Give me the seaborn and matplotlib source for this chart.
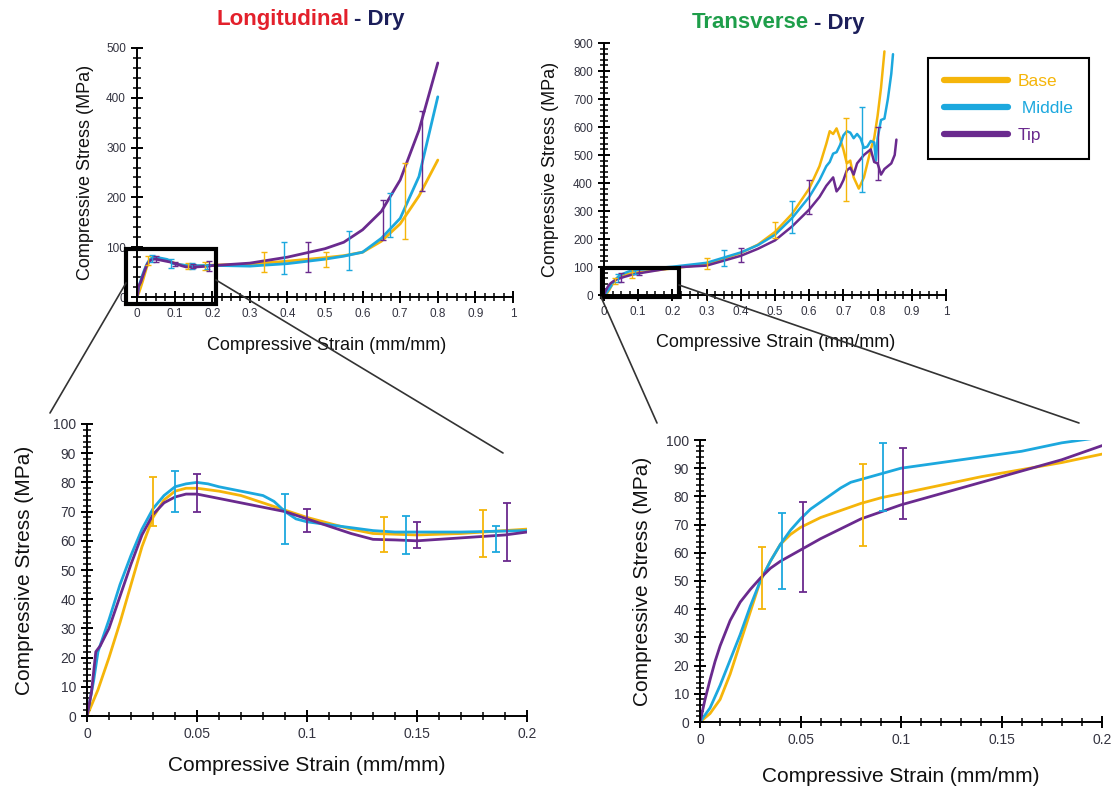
import numpy as np
import pandas as pd
import matplotlib
matplotlib.use("Agg")
import matplotlib.pyplot as plt
import seaborn as sns
from matplotlib.lines import Line2D
from matplotlib.patches import Rectangle
from matplotlib.ticker import MultipleLocator, FuncFormatter

sns.set_style("ticks")
plt.rcParams["font.family"] = ["Liberation Sans", "DejaVu Sans"]

SERIES = ["Base", "Middle", "Tip"]
LEGEND_LABELS = ["Base", " Middle", "Tip"]
COLORS = {"Base": "#F5B50A", "Middle": "#1CA8DE", "Tip": "#6A2A8E"}

# ---------------- Longitudinal - Dry ----------------
long_base_strain = [0, 0.005, 0.01, 0.015, 0.02, 0.025, 0.03, 0.035, 0.04, 0.045, 0.05, 0.06, 0.07,
                    0.08, 0.09, 0.1, 0.11, 0.12, 0.13, 0.15, 0.17, 0.2, 0.3, 0.4, 0.5, 0.55, 0.6,
                    0.65, 0.7, 0.75, 0.8]
long_base_stress = [0, 9, 20, 32, 45, 58, 68, 74, 77, 78, 78, 77, 75.5,
                    73, 70.5, 68, 66, 64, 62.5, 62, 62.5, 64, 66, 72, 79, 83, 90,
                    112, 147, 203, 275]

long_mid_strain = [0, 0.003, 0.005, 0.01, 0.015, 0.02, 0.025, 0.03, 0.035, 0.04, 0.045, 0.05, 0.055,
                   0.06, 0.07, 0.08, 0.085, 0.09, 0.095, 0.1, 0.11, 0.12, 0.13, 0.14, 0.15, 0.17,
                   0.2, 0.3, 0.4, 0.5, 0.55, 0.6, 0.65, 0.7, 0.75, 0.8]
long_mid_stress = [0, 12, 22, 33, 45, 55, 64, 71, 75.5, 78.5, 79.5, 80, 79.5,
                   78.5, 77, 75.5, 73.5, 70, 67.5, 66.5, 65.5, 64.5, 63.5, 63, 63, 63,
                   63.5, 62, 67, 76, 82, 90, 118, 158, 242, 402]

long_tip_strain = [0, 0.002, 0.004, 0.006, 0.01, 0.015, 0.02, 0.025, 0.03, 0.035, 0.04, 0.045, 0.05,
                   0.06, 0.07, 0.08, 0.09, 0.1, 0.11, 0.12, 0.13, 0.14, 0.15, 0.17, 0.19, 0.2,
                   0.3, 0.4, 0.5, 0.55, 0.6, 0.65, 0.7, 0.75, 0.8]
long_tip_stress = [0, 8, 22, 24, 30, 41, 52, 62, 69, 73, 75, 76, 76,
                   74.5, 73, 71.5, 70, 67.5, 65, 62.5, 60.5, 60.3, 60, 61, 62, 63,
                   68, 80, 97, 110, 135, 172, 235, 335, 470]

long_err_series = ["Base", "Middle", "Tip", "Middle", "Tip", "Base", "Middle", "Tip", "Base", "Middle", "Tip",
                   "Base", "Middle", "Tip", "Base", "Middle", "Tip", "Middle", "Base", "Tip"]
long_err_strain = [0.03, 0.04, 0.05, 0.09, 0.1, 0.135, 0.145, 0.15, 0.18, 0.186, 0.191,
                   0.338, 0.392, 0.454, 0.503, 0.565, 0.655, 0.673, 0.712, 0.757]
long_err_mean = [73.5, 77, 76.5, 67.5, 67, 62, 62, 62, 62.5, 60.5, 63,
                 70, 78, 80, 75, 93, 155, 165, 193, 293]
long_err_sd = [8.5, 7, 6.5, 8.5, 4, 6, 6.5, 4.5, 8, 4.5, 10,
               20, 32, 30, 15, 39, 40, 44, 76, 80]

# ---------------- Transverse - Dry ----------------
tran_base_strain = [0, 0.005, 0.01, 0.015, 0.02, 0.025, 0.03, 0.035, 0.04, 0.045, 0.05, 0.06, 0.07,
                    0.08, 0.09, 0.1, 0.12, 0.14, 0.16, 0.18, 0.2, 0.3, 0.4, 0.45, 0.5, 0.55, 0.6,
                    0.63, 0.65, 0.66, 0.67, 0.68, 0.69, 0.7, 0.71, 0.72, 0.73, 0.745, 0.76, 0.78,
                    0.79, 0.8, 0.81, 0.82]
tran_base_stress = [0, 3, 8, 17, 28, 39, 50, 57, 63, 66.5, 69, 72.5, 75,
                    77.5, 79.5, 81, 84, 87, 89.5, 92, 95, 110, 150, 180, 225, 290, 380,
                    460, 540, 585, 575, 595, 560, 520, 470, 480, 420, 380, 420, 520,
                    560, 640, 740, 870]

tran_mid_strain = [0, 0.005, 0.01, 0.015, 0.02, 0.025, 0.03, 0.035, 0.04, 0.045, 0.05, 0.055, 0.06,
                   0.065, 0.07, 0.075, 0.08, 0.09, 0.1, 0.12, 0.14, 0.16, 0.18, 0.2, 0.3, 0.4,
                   0.45, 0.5, 0.55, 0.6, 0.63, 0.65, 0.66, 0.67, 0.68, 0.69, 0.7, 0.71, 0.72,
                   0.73, 0.74, 0.75, 0.76, 0.77, 0.78, 0.79, 0.795, 0.8, 0.81, 0.82, 0.83, 0.84,
                   0.845]
tran_mid_stress = [0, 5, 13, 22, 31, 41, 50, 57, 63, 68, 72, 75.5, 78,
                   80.5, 83, 85, 86, 88, 90, 92, 94, 96, 99, 101, 115, 152,
                   178, 215, 275, 350, 410, 460, 475, 505, 510, 535, 570, 585, 580,
                   560, 575, 560, 525, 530, 550, 545, 480, 560, 625, 630, 700, 790,
                   860]

tran_tip_strain = [0, 0.0025, 0.005, 0.0075, 0.01, 0.015, 0.02, 0.025, 0.03, 0.035, 0.04, 0.045, 0.05,
                   0.06, 0.07, 0.08, 0.09, 0.1, 0.12, 0.14, 0.16, 0.18, 0.2, 0.3, 0.4, 0.45,
                   0.5, 0.55, 0.6, 0.63, 0.65, 0.67, 0.68, 0.69, 0.7, 0.71, 0.72, 0.73, 0.74,
                   0.76, 0.77, 0.78, 0.79, 0.8, 0.81, 0.82, 0.83, 0.84, 0.85, 0.855]
tran_tip_stress = [0, 8, 15, 21.5, 27, 36, 42.5, 47, 51, 54.5, 57, 59, 61,
                   65, 68.5, 72, 74.5, 77, 81, 85, 89, 93, 98, 105, 140, 165,
                   195, 245, 305, 350, 390, 420, 370, 385, 410, 445, 455, 430, 470,
                   500, 510, 520, 475, 470, 430, 450, 460, 470, 500, 555]

tran_err_series = ["Base", "Middle", "Tip", "Base", "Middle", "Tip",
                   "Base", "Middle", "Tip", "Base", "Middle", "Tip", "Base", "Middle", "Tip"]
tran_err_strain = [0.031, 0.041, 0.051, 0.081, 0.091, 0.101,
                   0.3, 0.35, 0.4, 0.5, 0.55, 0.6, 0.708, 0.754, 0.8]
tran_err_mean = [51, 60.5, 62, 77, 87, 84.5,
                 112, 133, 143, 232, 277, 351, 483, 521, 506]
tran_err_sd = [11, 13.5, 16, 14.5, 12, 12.5,
               20, 28, 24, 30, 57, 60, 149, 152, 95]


def long_frame(parts):
    rows = []
    for name, xs, ys in parts:
        rows.append(pd.DataFrame({"strain": xs, "stress": ys, "series": name}))
    return pd.concat(rows, ignore_index=True)


long_df = long_frame([("Base", long_base_strain, long_base_stress),
                      ("Middle", long_mid_strain, long_mid_stress),
                      ("Tip", long_tip_strain, long_tip_stress)])
tran_df = long_frame([("Base", tran_base_strain, tran_base_stress),
                      ("Middle", tran_mid_strain, tran_mid_stress),
                      ("Tip", tran_tip_strain, tran_tip_stress)])
long_err = pd.DataFrame({"series": long_err_series, "strain": long_err_strain,
                         "mean": long_err_mean, "sd": long_err_sd})
tran_err = pd.DataFrame({"series": tran_err_series, "strain": tran_err_strain,
                         "mean": tran_err_mean, "sd": tran_err_sd})

W, H = 1120, 790
fig = plt.figure(figsize=(W / 100, H / 100), dpi=100)
fig.patch.set_facecolor("white")


def axbox(x0, x1, ytop, ybot):
    return [x0 / W, 1 - ybot / H, (x1 - x0) / W, (ybot - ytop) / H]


def fx(px):
    return px / W


def fy(py):
    return 1 - py / H


fmt = FuncFormatter(lambda v, p: f"{v:g}")


def style(ax, xlim, ylim, xmaj, xmin, ymaj, ymin, fs):
    ax.set_xlim(*xlim)
    ax.set_ylim(*ylim)
    ax.set_facecolor("none")
    for s in ["top", "right"]:
        ax.spines[s].set_visible(False)
    for s in ["left", "bottom"]:
        ax.spines[s].set_linewidth(1.4)
        ax.spines[s].set_color("black")
    ax.xaxis.set_major_locator(MultipleLocator(xmaj))
    ax.xaxis.set_minor_locator(MultipleLocator(xmin))
    ax.yaxis.set_major_locator(MultipleLocator(ymaj))
    ax.yaxis.set_minor_locator(MultipleLocator(ymin))
    ax.xaxis.set_major_formatter(fmt)
    ax.yaxis.set_major_formatter(fmt)
    ax.tick_params(which="both", bottom=True, left=True, top=False, right=False)
    ax.tick_params(which="major", direction="inout", length=8, width=1.4,
                   labelsize=fs, labelcolor="#333340", color="black", pad=4)
    ax.tick_params(which="minor", direction="inout", length=6, width=1.1, color="black")


def draw(ax, df, err, lw, elw, cap):
    sns.lineplot(data=df, x="strain", y="stress", hue="series", hue_order=SERIES,
                 palette=COLORS, estimator=None, sort=False, linewidth=lw,
                 legend=False, ax=ax)
    for s in SERIES:
        sub = err[err["series"] == s]
        ax.errorbar(sub["strain"], sub["mean"], yerr=sub["sd"], fmt="none",
                    ecolor=COLORS[s], elinewidth=elw, capsize=cap, capthick=elw, zorder=3)


ax_tl = fig.add_axes(axbox(137, 513, 48, 297))
ax_tr = fig.add_axes(axbox(604, 946, 43, 295))
ax_bl = fig.add_axes(axbox(87, 527, 424, 716))
ax_br = fig.add_axes(axbox(700, 1102, 440, 722))

draw(ax_tl, long_df, long_err, 2.0, 1.0, 2.5)
draw(ax_tr, tran_df, tran_err, 1.8, 1.0, 2.5)
draw(ax_bl, long_df, long_err, 2.0, 1.3, 3)
draw(ax_br, tran_df, tran_err, 2.0, 1.3, 3)

style(ax_tl, (0, 1), (0, 500), 0.1, 0.025, 100, 20, 8.5)
style(ax_tr, (0, 1), (0, 900), 0.1, 0.025, 100, 20, 8.5)
style(ax_bl, (0, 0.2), (0, 100), 0.05, 0.01, 10, 2, 10)
style(ax_br, (0, 0.2), (0, 100), 0.05, 0.01, 10, 2, 10)

XL = "Compressive Strain (mm/mm)"
YL = "Compressive Stress (MPa)"
for ax, fs, xc, yc in [(ax_tl, 13, (0.505, -0.193), (-0.138, 0.5)),
                       (ax_tr, 13, (0.503, -0.19), (-0.155, 0.5)),
                       (ax_bl, 15, (0.5, -0.168), (-0.141, 0.5)),
                       (ax_br, 15, (0.5, -0.195), (-0.144, 0.5))]:
    ax.set_xlabel(XL, fontsize=fs, color="#111111", va="center")
    ax.set_ylabel(YL, fontsize=fs, color="#111111", va="center")
    ax.xaxis.set_label_coords(*xc)
    ax.yaxis.set_label_coords(*yc)

# zoom boxes
ax_tl.add_patch(Rectangle((-0.029, -14), 0.239, 110, fill=False, lw=3, ec="black",
                          clip_on=False, zorder=5))
ax_tr.add_patch(Rectangle((-0.006, -7), 0.225, 103, fill=False, lw=3, ec="black",
                          clip_on=False, zorder=5))

# connector lines (figure pixels)
for (x1, y1), (x2, y2) in [((126, 283), (50, 413)), ((216, 280), (503, 453)),
                           ((601, 297), (657, 423)), ((679, 285), (1079, 423))]:
    fig.add_artist(Line2D([fx(x1), fx(x2)], [fy(y1), fy(y2)], transform=fig.transFigure,
                          color="#333333", lw=1.2))

# titles
tfs = 16
fig.text(fx(349), fy(20), "Longitudinal", color="#E3202B", fontsize=tfs, fontweight="bold",
         ha="right", va="center")
fig.text(fx(354), fy(20), "- Dry", color="#1C1F5A", fontsize=tfs, fontweight="bold",
         ha="left", va="center")
fig.text(fx(809), fy(23), "Transverse", color="#1E9E4A", fontsize=tfs, fontweight="bold",
         ha="right", va="center")
fig.text(fx(814), fy(23), "- Dry", color="#1C1F5A", fontsize=tfs, fontweight="bold",
         ha="left", va="center")

# legend
handles = [Line2D([], [], color=COLORS[s], lw=4.5) for s in SERIES]
leg = fig.legend(handles, LEGEND_LABELS, loc="upper left", bbox_to_anchor=(fx(928), fy(58)),
                 bbox_transform=fig.transFigure, frameon=True, fancybox=False,
                 edgecolor="black", framealpha=1, fontsize=12.5, handlelength=3.7,
                 handletextpad=0.55, labelspacing=0.7, borderpad=0.9, borderaxespad=0,
                 labelcolor="linecolor")
leg.get_frame().set_linewidth(1.5)

fig.savefig("out.png", dpi=100, facecolor="white")
